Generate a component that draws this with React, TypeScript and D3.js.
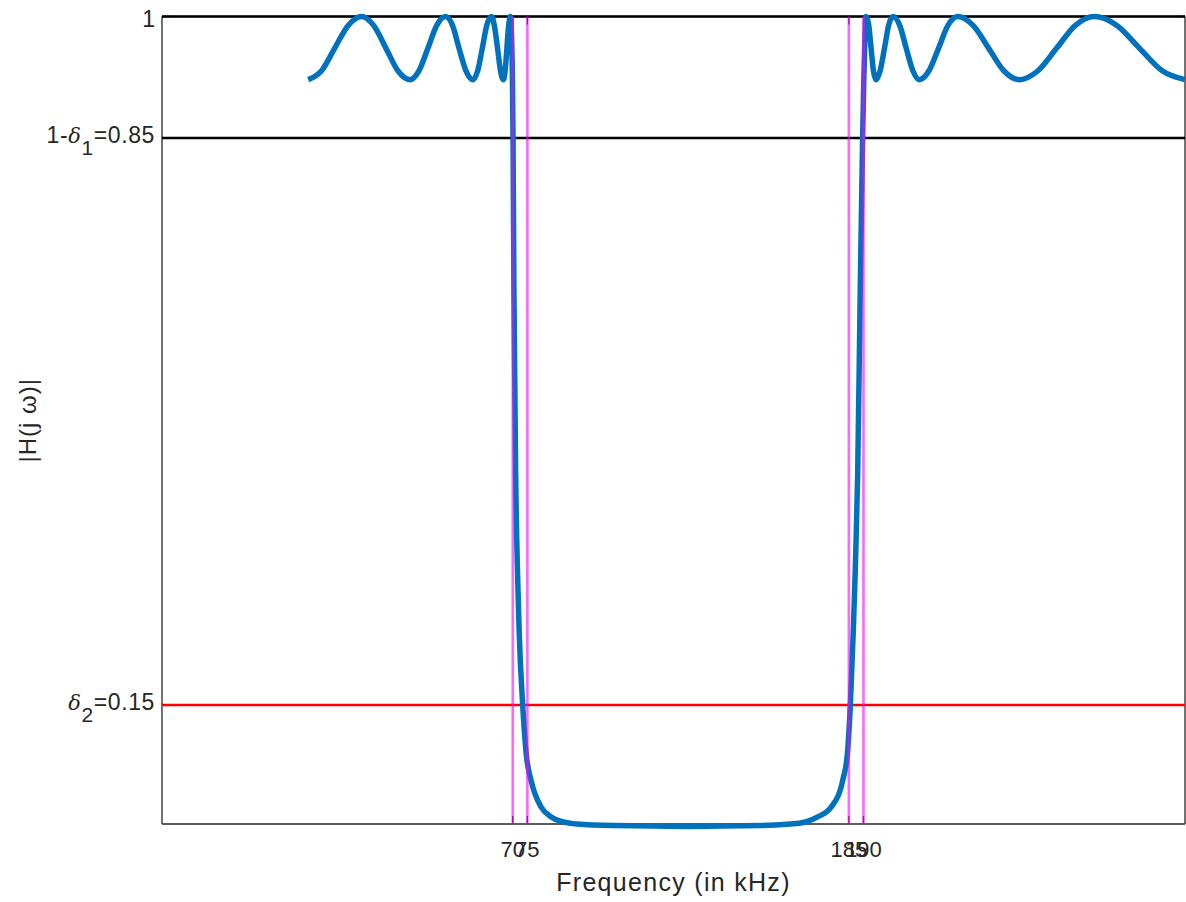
import React from "react";
import * as d3 from "d3";

// Magnitude response samples (frequency in kHz, |H(jω)|)
const responseFreq = [
  // lower passband ripple
  0, 4.6, 9.1, 13.7, 18.3, 22.4, 26.6, 30.7, 34.8, 37.9, 41.0, 44.0, 47.0, 49.4, 51.6, 54.0,
  56.4, 58.0, 59.6, 61.1, 62.7, 63.7, 64.8, 65.8, 66.8, 67.4, 68.0, 68.6, 69.2, 69.6, 69.9,
  // lower transition and stopband
  70.1, 70.4, 71.0, 71.6, 72.2, 73.4, 74.6, 76.4, 79.7, 83, 87, 92, 105, 130, 155, 165, 168, 170.5, 174.5,
  // upper transition
  179.1, 182.9, 184.5, 185.5, 186.5, 187.2, 188.0, 188.9, 189.7, 190.1, 190.5,
  // upper passband ripple
  190.9, 191.8, 192.6, 193.4, 194.3, 195.7, 197.2, 198.6, 200.1, 202.4, 204.6, 206.9,
  209.1, 212.4, 215.7, 218.9, 222.2, 227.5, 232.8, 238.0, 243.3, 249.7, 256.1, 262.5,
  268.9, 276.7, 284.4, 292.2, 300,
];
const responseMag = [
  0.922, 0.933, 0.961, 0.989, 1.0, 0.989, 0.961, 0.933, 0.922, 0.933, 0.961, 0.989, 1.0, 0.989, 0.961, 0.933,
  0.922, 0.933, 0.961, 0.989, 1.0, 0.989, 0.961, 0.933, 0.922, 0.933, 0.961, 0.989, 1.0, 0.975, 0.92,
  0.85, 0.665, 0.433, 0.318, 0.24, 0.15, 0.09, 0.055, 0.024, 0.012, 0.006, 0.003, 0.001, 0.0, 0.001, 0.003, 0.004, 0.006, 0.012,
  0.0245, 0.057, 0.09, 0.15, 0.24, 0.318, 0.433, 0.665, 0.85, 0.92, 0.975,
  1.0, 0.989, 0.961, 0.933, 0.922, 0.933, 0.961, 0.989, 1.0, 0.989, 0.961, 0.933,
  0.922, 0.933, 0.961, 0.989, 1.0, 0.989, 0.961, 0.933, 0.922, 0.933, 0.961, 0.989,
  1.0, 0.989, 0.961, 0.933, 0.922,
];

// Band edges (kHz): passband edges and stopband edges
const edgeFreqs = [70, 75, 185, 190];
const xTickLabels = ["70", "75", "185", "190"];

// Tolerance levels
const passLevel = 1;
const passRippleLevel = 0.85;
const stopLevel = 0.15;
const yTickValues = [stopLevel, passRippleLevel, passLevel];

const xDomain = [-50, 300];
const yDomain = [0.003, 1];

const W = 1186;
const H = 902;
const left = 162;
const right = 1185;
const top = 16.5;
const bottom = 824;

const textColor = "#262626";
const font = "'Liberation Sans', Arial, Helvetica, sans-serif";
const tickFont = 22;
const yTickFont = 23;

export default function App() {
  const x = d3.scaleLinear().domain(xDomain).range([left, right]);
  const y = d3.scaleLinear().domain(yDomain).range([bottom, top]);

  const pts: [number, number][] = responseFreq.map((f, i) => [f, responseMag[i]]);
  const line = d3
    .line<[number, number]>()
    .x((d) => x(d[0]))
    .y((d) => y(d[1]))
    .curve(d3.curveMonotoneX);

  const tickLen = 8;

  const yLabel = (v: number) => {
    const yy = y(v);
    if (v === passLevel) {
      return (
        <text key={v} x={155} y={yy + 10.5} textAnchor="end" fontSize={yTickFont}>
          1
        </text>
      );
    }
    const isPass = v === passRippleLevel;
    return (
      <text key={v} x={155} y={yy + 5.5} textAnchor="end" fontSize={yTickFont} letterSpacing={0.6}>
        {isPass ? <tspan>1-</tspan> : null}
        <tspan fontStyle="italic" fontFamily="'DejaVu Serif', serif" fontSize={yTickFont - 2}>δ</tspan>
        <tspan dy={12} fontSize={yTickFont - 2}>{isPass ? "1" : "2"}</tspan>
        <tspan dy={-12}>{isPass ? "=0.85" : "=0.15"}</tspan>
      </text>
    );
  };

  return (
    <svg
      width={W}
      height={H}
      style={{ position: "absolute", left: 0, top: 0, background: "#fff" }}
      fontFamily={font}
      fill={textColor}
    >
      <rect x={0} y={0} width={W} height={H} fill="#fff" />

      {/* axes box */}
      <g stroke={textColor} strokeWidth={1.3} fill="none">
        <line x1={left} x2={left} y1={top} y2={bottom} />
        <line x1={left} x2={right} y1={bottom} y2={bottom} />
        <line x1={right} x2={right} y1={top} y2={bottom} />
        <line x1={left} x2={right} y1={top} y2={top} />
        {edgeFreqs.map((f) => (
          <g key={f}>
            <line x1={x(f)} x2={x(f)} y1={bottom} y2={bottom - tickLen} />
            <line x1={x(f)} x2={x(f)} y1={top} y2={top + tickLen} />
          </g>
        ))}
        {yTickValues.map((v) => (
          <g key={v}>
            <line x1={left} x2={left + tickLen} y1={y(v)} y2={y(v)} />
            <line x1={right} x2={right - tickLen} y1={y(v)} y2={y(v)} />
          </g>
        ))}
      </g>

      {/* tolerance levels */}
      <line x1={left} x2={right} y1={y(passLevel)} y2={y(passLevel)} stroke="#000" strokeWidth={2.6} />
      <line x1={left} x2={right} y1={y(passRippleLevel)} y2={y(passRippleLevel)} stroke="#000" strokeWidth={2.4} />
      <line x1={left} x2={right} y1={y(stopLevel)} y2={y(stopLevel)} stroke="#ff0000" strokeWidth={2.4} />

      {/* magnitude response */}
      <path d={line(pts) ?? ""} fill="none" stroke="#0072BD" strokeWidth={5.5} strokeLinejoin="round" />

      {/* band edge markers */}
      {edgeFreqs.map((f) => (
        <line
          key={f}
          x1={x(f)}
          x2={x(f)}
          y1={top}
          y2={bottom}
          stroke="#ff00ff"
          strokeOpacity={0.6}
          strokeWidth={2.6}
        />
      ))}

      {/* x tick labels */}
      {edgeFreqs.map((f, i) => (
        <text key={f} x={x(f)} y={857} textAnchor="middle" fontSize={tickFont}>
          {xTickLabels[i]}
        </text>
      ))}

      {/* y tick labels */}
      {yTickValues.map((v) => yLabel(v))}

      {/* axis labels */}
      <text x={(left + right) / 2} y={891} textAnchor="middle" fontSize={25} letterSpacing={1.3}>
        Frequency (in kHz)
      </text>
      <text
        transform={`translate(36, ${(top + bottom) / 2}) rotate(-90)`}
        textAnchor="middle"
        fontSize={24}
        letterSpacing={1}
      >
        |H(j ω)|
      </text>
    </svg>
  );
}
